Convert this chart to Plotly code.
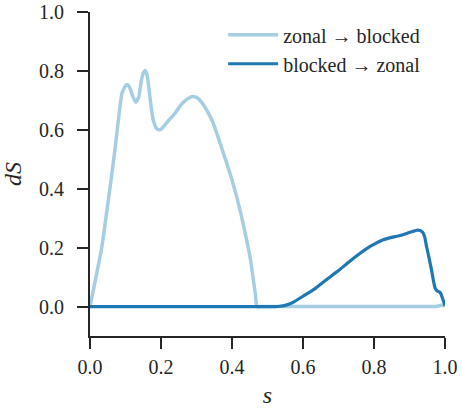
import plotly.graph_objects as go

# zonal -> blocked (light blue)
s_zb = [0, 0.033, 0.056, 0.07, 0.08, 0.09, 0.1, 0.106, 0.113, 0.12, 0.129, 0.137,
        0.145, 0.151, 0.156, 0.161, 0.167, 0.173, 0.178, 0.186, 0.193, 0.2, 0.21,
        0.22, 0.239, 0.26, 0.275, 0.288, 0.3, 0.31, 0.325, 0.347, 0.365, 0.385,
        0.4, 0.413, 0.428, 0.441, 0.452, 0.46, 0.466, 0.47, 0.48, 0.5, 0.55, 0.6,
        0.7, 0.8, 0.9, 0.96, 0.975, 0.985, 0.992, 1.0]
dS_zb = [0, 0.2, 0.4, 0.53, 0.634, 0.724, 0.75, 0.753, 0.74, 0.715, 0.693, 0.71,
         0.77, 0.795, 0.801, 0.785, 0.73, 0.67, 0.634, 0.607, 0.6, 0.602, 0.615,
         0.63, 0.656, 0.69, 0.705, 0.713, 0.71, 0.70, 0.675, 0.623, 0.56, 0.487,
         0.43, 0.374, 0.3, 0.227, 0.16, 0.092, 0.04, 0, 0, 0, 0, 0,
         0, 0, 0, 0, 0, 0.003, 0.005, 0]

# blocked -> zonal (dark blue)
s_bz = [0, 0.1, 0.2, 0.3, 0.4, 0.45, 0.5, 0.52, 0.535, 0.55, 0.57, 0.6, 0.633,
        0.667, 0.7, 0.732, 0.76, 0.789, 0.826, 0.85, 0.873, 0.901, 0.912, 0.92,
        0.93, 0.937, 0.943, 0.948, 0.955, 0.962, 0.967, 0.972, 0.978, 0.984,
        0.988, 0.994, 1.0]
dS_bz = [0, 0, 0, 0, 0, 0, 0, 0, 0.001, 0.004, 0.013, 0.035, 0.06,
         0.092, 0.122, 0.154, 0.18, 0.204, 0.227, 0.235, 0.241, 0.252, 0.256, 0.259,
         0.258, 0.252, 0.235, 0.204, 0.165, 0.125, 0.09, 0.063, 0.053, 0.05,
         0.045, 0.025, 0.003]

names = ["zonal \u2192 blocked", "blocked \u2192 zonal"]
colors = ["#a6cee3", "#1f78b4"]
ticks = [0, 0.2, 0.4, 0.6, 0.8, 1.0]

fig = go.Figure()
fig.add_trace(go.Scatter(x=s_zb, y=dS_zb, mode="lines", name=names[0],
                         line=dict(color=colors[0], width=3.5, shape="spline", smoothing=0.4)))
fig.add_trace(go.Scatter(x=s_bz, y=dS_bz, mode="lines", name=names[1],
                         line=dict(color=colors[1], width=3.2, shape="spline", smoothing=0.4)))

txt = "#262626"
fig.update_layout(
    width=462, height=408,
    margin=dict(l=90, r=17, t=12, b=72),
    plot_bgcolor="white", paper_bgcolor="white",
    font=dict(family="Liberation Serif", size=20, color=txt),
    showlegend=True,
    legend=dict(x=0.375, y=0.99, xanchor="left", yanchor="top",
                bgcolor="rgba(0,0,0,0)", font=dict(family="Liberation Serif", size=20),
                tracegroupgap=0, itemwidth=50),
    xaxis=dict(range=[0, 1], showline=True, linecolor=txt, linewidth=1.8,
               showgrid=False, zeroline=False, ticks="outside", ticklen=11,
               tickwidth=1.8, tickcolor=txt, tickvals=ticks, tickformat=".1f",
               ticklabelstandoff=1, automargin=False, ticklabeloverflow="allow",
               title=dict(text="<i>s</i>", standoff=22)),
    yaxis=dict(range=[-0.1, 1.0], showline=True, linecolor=txt, linewidth=1.8,
               showgrid=False, zeroline=False, ticks="outside", ticklen=11,
               tickwidth=1.8, tickcolor=txt, tickvals=ticks, tickformat=".1f",
               ticklabelstandoff=9, automargin=False, ticklabeloverflow="allow",
               title=dict(text="<i>dS</i>", standoff=21)),
)

fig.write_html("out.html", config={"displayModeBar": False},
               post_script="document.body.style.margin='0';document.body.style.padding='0';")
